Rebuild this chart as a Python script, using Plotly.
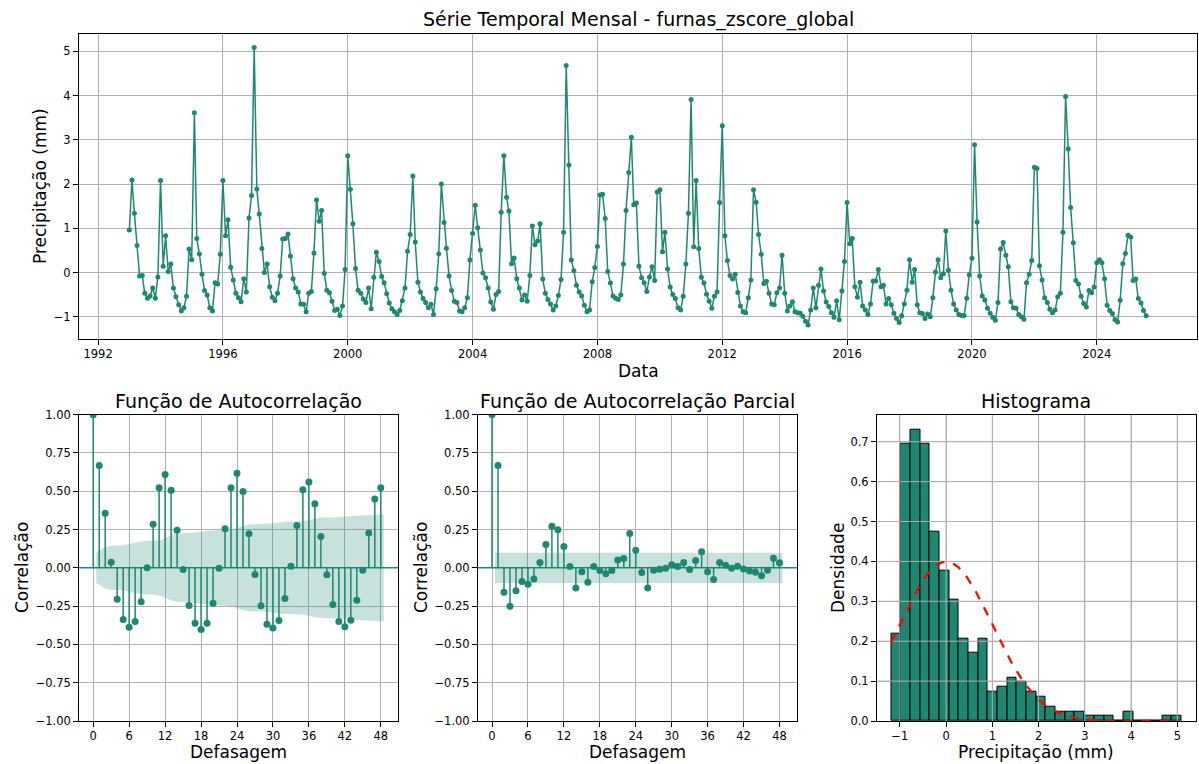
import numpy as np
import pandas as pd
import plotly.graph_objects as go

# ---------------- data ----------------
series_start = "1993-01-01"
monthly_values = [
    # 1993
    0.96, 2.09, 1.34, 0.61, -0.08, -0.07, -0.47, -0.58, -0.53, -0.35, -0.58, -0.10,
    # 1994
    2.08, 0.14, 0.83, 0.02, 0.19, -0.35, -0.55, -0.73, -0.87, -0.80, -0.54, 0.53,
    # 1995
    0.29, 3.61, 0.77, 0.42, -0.04, -0.41, -0.51, -0.80, -0.87, -0.23, -0.26, 0.41,
    # 1996
    2.08, 0.83, 1.19, 0.12, -0.17, -0.47, -0.57, -0.66, -0.14, -0.44, 1.23, 1.74,
    # 1997
    5.09, 1.89, 1.32, 0.54, 0.00, 0.19, -0.32, -0.56, -0.64, -0.47, -0.08, 0.76,
    # 1998
    0.77, 0.87, 0.37, -0.14, -0.35, -0.44, -0.71, -0.72, -0.89, -0.47, -0.43, 0.44,
    # 1999
    1.64, 1.16, 1.40, -0.02, -0.40, -0.46, -0.65, -0.86, -0.83, -0.97, -0.76, 0.07,
    # 2000
    2.64, 1.88, 1.10, 0.09, -0.40, -0.47, -0.60, -0.68, -0.35, -0.82, -0.11, 0.46,
    # 2001
    0.25, -0.09, -0.23, -0.48, -0.69, -0.82, -0.89, -0.95, -0.86, -0.64, -0.35, 0.48,
    # 2002
    0.86, 2.18, 0.69, -0.22, -0.44, -0.59, -0.68, -0.80, -0.72, -0.95, -0.37, 0.42,
    # 2003
    2.00, 1.13, 0.55, -0.08, -0.41, -0.65, -0.68, -0.87, -0.89, -0.80, -0.57, 0.28,
    # 2004
    0.88, 1.52, 1.01, 0.51, -0.01, -0.12, -0.35, -0.67, -0.83, -0.50, -0.43, 1.36,
    # 2005
    2.64, 1.70, 1.39, 0.20, 0.33, -0.14, -0.35, -0.62, -0.51, -0.65, -0.07, 1.05,
    # 2006
    0.63, 0.71, 1.10, -0.15, -0.47, -0.61, -0.71, -0.85, -0.76, -0.52, -0.16, 0.91,
    # 2007
    4.68, 2.43, 0.28, 0.04, -0.29, -0.44, -0.53, -0.74, -0.89, -0.85, -0.21, 0.11,
    # 2008
    0.59, 1.75, 1.77, 1.22, 0.02, -0.24, -0.53, -0.58, -0.61, -0.51, 0.19, 1.40,
    # 2009
    2.26, 3.06, 1.53, 1.57, 0.14, -0.12, -0.23, -0.43, -0.10, 0.13, -0.18, 1.82,
    # 2010
    1.87, 0.47, 0.91, 0.08, -0.33, -0.50, -0.59, -0.80, -0.85, -0.54, 0.19, 1.34,
    # 2011
    3.91, 0.58, 2.08, 0.54, -0.11, -0.24, -0.49, -0.65, -0.81, -0.54, -0.44, 1.58,
    # 2012
    3.32, 0.83, 0.27, -0.07, -0.15, -0.04, -0.45, -0.76, -0.89, -0.91, -0.57, -0.17,
    # 2013
    1.87, 1.59, 0.86, 0.41, -0.25, -0.20, -0.47, -0.71, -0.73, -0.46, -0.35, 0.39,
    # 2014
    -0.47, -0.87, -0.76, -0.66, -0.89, -0.91, -0.92, -0.99, -1.10, -1.19, -0.85, -0.35,
    # 2015
    -0.80, -0.29, 0.08, -0.42, -0.67, -0.77, -0.91, -1.01, -0.64, -1.07, -0.42, 0.25,
    # 2016
    1.58, 0.65, 0.77, -0.32, -0.56, -0.22, -0.76, -0.85, -0.95, -0.71, -0.19, -0.19,
    # 2017
    0.07, -0.32, -0.29, -0.71, -0.59, -0.73, -0.92, -1.04, -1.13, -0.98, -0.71, -0.40,
    # 2018
    0.29, -0.22, 0.07, -0.73, -0.91, -0.93, -1.04, -0.94, -1.00, -0.57, 0.01, 0.29,
    # 2019
    -0.12, -0.03, 0.94, 0.05, -0.40, -0.71, -0.85, -0.95, -0.97, -0.97, -0.58, -0.05,
    # 2020
    0.32, 2.89, 1.14, -0.08, -0.53, -0.62, -0.81, -0.92, -1.01, -1.08, -0.68, 0.53,
    # 2021
    0.68, 0.39, 0.13, -0.66, -0.80, -0.81, -0.95, -1.00, -1.06, -0.23, -0.04, 0.27,
    # 2022
    2.38, 2.35, 0.15, -0.17, -0.57, -0.68, -0.83, -0.91, -0.85, -0.55, -0.47, 0.91,
    # 2023
    3.98, 2.80, 1.47, 0.67, -0.18, -0.26, -0.54, -0.70, -0.78, -0.41, -0.46, -0.33,
    # 2024
    0.22, 0.29, 0.22, -0.14, -0.74, -0.86, -0.93, -1.07, -1.12, -0.63, 0.20, 0.43,
    # 2025
    0.84, 0.80, -0.18, -0.15, -0.59, -0.69, -0.86, -0.98,
]

acf_values = [
    1.000, 0.668, 0.357, 0.036, -0.205, -0.338, -0.388, -0.351, -0.222, 0.000,
    0.285, 0.523, 0.609, 0.506, 0.246, -0.010, -0.246, -0.362, -0.403, -0.362,
    -0.231, -0.003, 0.255, 0.523, 0.617, 0.499, 0.222, -0.043, -0.248, -0.368,
    -0.392, -0.344, -0.200, 0.010, 0.276, 0.510, 0.561, 0.418, 0.204, -0.045,
    -0.239, -0.351, -0.384, -0.342, -0.211, -0.016, 0.228, 0.449, 0.523,
]

pacf_values = [
    1.000, 0.669, -0.159, -0.251, -0.150, -0.089, -0.107, -0.072, 0.035, 0.153,
    0.272, 0.248, 0.139, 0.009, -0.131, -0.026, -0.094, 0.009, -0.017, -0.039,
    -0.017, 0.052, 0.061, 0.224, 0.115, -0.031, -0.131, -0.015, -0.009, -0.002,
    0.020, 0.009, 0.035, -0.011, 0.048, 0.105, -0.026, -0.076, 0.035, 0.017,
    -0.002, 0.011, -0.007, -0.020, -0.028, -0.052, -0.015, 0.063, 0.033,
]

hist_counts = [18, 57, 60, 57, 39, 31, 25, 17, 14, 17, 6, 7, 9, 8, 6,
               5, 3, 2, 2, 2, 1, 1, 1, 0, 2, 0, 0, 0, 1, 1]
normal_mean = 0.0
normal_std = 1.0

year_ticks = [1992, 1996, 2000, 2004, 2008, 2012, 2016, 2020, 2024]
lag_ticks = [0, 6, 12, 18, 24, 30, 36, 42, 48]

# ---------------- styling ----------------
TEAL = "#1e8772"
BAND = "rgba(30,135,114,0.25)"
GRID = "#b0b0b0"
FONT = "DejaVu Sans"
W, H = 1199, 764
TICK_SIZE = 11.5
LABEL_SIZE = 17
TITLE_SIZE = 19

def px_x(p):
    return p / W

def px_y(p):
    return 1 - p / H

vals = np.array(monthly_values)
n = len(vals)
dates = pd.date_range(series_start, periods=n, freq="MS")

fig = go.Figure()

# ---- top: time series ----
fig.add_trace(go.Scatter(
    x=dates, y=vals, mode="lines+markers",
    line=dict(color=TEAL, width=1.5),
    marker=dict(color=TEAL, size=5),
    xaxis="x", yaxis="y", showlegend=False,
))

# ---- ACF ----
lags = np.arange(len(acf_values))
z = 1.959963985
r = np.array(acf_values)
var_acf = np.ones(len(r)) / n
var_acf[0] = 0
var_acf[2:] *= 1 + 2 * np.cumsum(r[1:-1] ** 2)
acf_w = z * np.sqrt(var_acf)
band_x = lags[1:].astype(float)
band_x[0] -= 0.5
band_x[-1] += 0.5
fig.add_trace(go.Scatter(
    x=np.concatenate([band_x, band_x[::-1]]),
    y=np.concatenate([acf_w[1:], -acf_w[1:][::-1]]),
    fill="toself", fillcolor=BAND, line=dict(width=0), mode="lines",
    xaxis="x2", yaxis="y2", showlegend=False, hoverinfo="skip",
))

def stems(lg, v, xa, ya):
    sx, sy = [], []
    for a, b in zip(lg, v):
        sx += [a, a, None]
        sy += [0, b, None]
    fig.add_trace(go.Scatter(x=sx, y=sy, mode="lines",
                             line=dict(color=TEAL, width=1.5),
                             xaxis=xa, yaxis=ya, showlegend=False))
    fig.add_trace(go.Scatter(x=lg, y=v, mode="markers",
                             marker=dict(color=TEAL, size=7),
                             xaxis=xa, yaxis=ya, showlegend=False))

# ---- PACF band ----
pacf_w = z / np.sqrt(n)
fig.add_trace(go.Scatter(
    x=[band_x[0], band_x[-1], band_x[-1], band_x[0]],
    y=[pacf_w, pacf_w, -pacf_w, -pacf_w],
    fill="toself", fillcolor=BAND, line=dict(width=0), mode="lines",
    xaxis="x3", yaxis="y3", showlegend=False, hoverinfo="skip",
))

stems(lags, acf_values, "x2", "y2")
stems(lags, pacf_values, "x3", "y3")

# ---- histogram ----
edges = np.linspace(vals.min(), vals.max(), len(hist_counts) + 1)
bw = edges[1] - edges[0]
centers = (edges[:-1] + edges[1:]) / 2
density = np.array(hist_counts) / (n * bw)
fig.add_trace(go.Bar(
    x=centers, y=density, width=bw,
    marker=dict(color=TEAL, line=dict(color="black", width=1)),
    xaxis="x4", yaxis="y4", showlegend=False,
))
# grid drawn above bars (as matplotlib does)
hx_range = [vals.min() - 0.05 * (vals.max() - vals.min()),
            vals.max() + 0.05 * (vals.max() - vals.min())]
hy_top = density.max() * 1.05
gx, gy = [], []
for t in range(-1, 6):
    gx += [t, t, None]
    gy += [0, hy_top, None]
for t in np.arange(0.1, 0.75, 0.1):
    gx += [hx_range[0], hx_range[1], None]
    gy += [t, t, None]
fig.add_trace(go.Scatter(x=gx, y=gy, mode="lines",
                         line=dict(color=GRID, width=1),
                         xaxis="x4", yaxis="y4", showlegend=False,
                         hoverinfo="skip"))
xn = np.linspace(vals.min(), vals.max(), 200)
pdf = np.exp(-0.5 * ((xn - normal_mean) / normal_std) ** 2) / (normal_std * np.sqrt(2 * np.pi))
fig.add_trace(go.Scatter(x=xn, y=pdf, mode="lines",
                         line=dict(color="red", width=2.2, dash="dash"),
                         xaxis="x4", yaxis="y4", showlegend=False))

# ---------------- axes ----------------
axis_common = dict(
    showline=True, linecolor="black", linewidth=1, mirror=True,
    showgrid=True, gridcolor=GRID, gridwidth=1,
    ticks="outside", ticklen=4.5, tickwidth=1, tickcolor="black",
    tickfont=dict(family=FONT, size=TICK_SIZE, color="black"),
    zeroline=False, automargin=False,
)

d0, d1 = dates.min(), dates.max()
span = d1 - d0
xr = [d0 - 0.05 * span, d1 + 0.05 * span]
yr = [vals.min() - 0.05 * (vals.max() - vals.min()),
      vals.max() + 0.05 * (vals.max() - vals.min())]

top_y = [px_y(339), px_y(33.5)]
bot_y = [px_y(721), px_y(414.7)]

lag_range = [-2.425, 50.925]

fig.update_layout(
    width=W, height=H, autosize=False,
    margin=dict(l=0, r=0, t=0, b=0, autoexpand=False),
    paper_bgcolor="white", plot_bgcolor="white",
    font=dict(family=FONT, color="black"),
    xaxis=dict(axis_common, domain=[px_x(78.5), px_x(1197)], type="date",
               range=xr, tickvals=[f"{y}-01-01" for y in year_ticks],
               ticktext=[str(y) for y in year_ticks], anchor="y"),
    yaxis=dict(axis_common, domain=top_y, range=yr, dtick=1, tick0=0, anchor="x"),
    xaxis2=dict(axis_common, domain=[px_x(78.7), px_x(398.3)], range=lag_range,
                tickvals=lag_ticks, anchor="y2"),
    yaxis2=dict(axis_common, domain=bot_y, range=[-1, 1], dtick=0.25, tick0=0,
                tickformat=".2f", anchor="x2"),
    xaxis3=dict(axis_common, domain=[px_x(477.5), px_x(797)], range=lag_range,
                tickvals=lag_ticks, anchor="y3"),
    yaxis3=dict(axis_common, domain=bot_y, range=[-1, 1], dtick=0.25, tick0=0,
                tickformat=".2f", anchor="x3"),
    xaxis4=dict(axis_common, domain=[px_x(876.5), px_x(1196)], range=hx_range,
                dtick=1, tick0=0, anchor="y4"),
    yaxis4=dict(axis_common, domain=bot_y, range=[0, hy_top], dtick=0.1, tick0=0,
                tickformat=".1f", anchor="x4"),
    bargap=0,
)

# zero lines for ACF / PACF (axhline)
for xa, ya in [("x2", "y2"), ("x3", "y3")]:
    fig.add_shape(type="line", xref=f"{xa} domain", yref=ya,
                  x0=0, x1=1, y0=0, y1=0,
                  line=dict(color=TEAL, width=1.5), layer="above")

# ---------------- text ----------------
def ann(text, x, y, size, angle=0):
    fig.add_annotation(text=text, x=px_x(x), y=px_y(y), xref="paper", yref="paper",
                       showarrow=False, textangle=angle,
                       xanchor="center", yanchor="middle",
                       font=dict(family=FONT, size=size, color="black"))

ann("Série Temporal Mensal - furnas_zscore_global", 638, 19, TITLE_SIZE)
ann("Data", 638, 371, LABEL_SIZE)
ann("Precipitação (mm)", 40, 186, LABEL_SIZE, -90)

ann("Função de Autocorrelação", 238.5, 401, TITLE_SIZE)
ann("Função de Autocorrelação Parcial", 637, 401, TITLE_SIZE)
ann("Histograma", 1036, 401, TITLE_SIZE)

ann("Defasagem", 238.5, 752, LABEL_SIZE)
ann("Defasagem", 637, 752, LABEL_SIZE)
ann("Precipitação (mm)", 1036, 752, LABEL_SIZE)

ann("Correlação", 22, 568, LABEL_SIZE, -90)
ann("Correlação", 421, 568, LABEL_SIZE, -90)
ann("Densidade", 838, 568, LABEL_SIZE, -90)

post_js = (
    "document.documentElement.style.margin='0';"
    "document.documentElement.style.overflow='hidden';"
    "document.body.style.margin='0';"
    "document.body.style.padding='0';"
    "document.body.style.overflow='hidden';"
    "var gd=document.getElementById('{plot_id}');"
    "Plotly.relayout(gd,{width:%d,height:%d});" % (W, H)
)

fig.write_html("out.html",
               config={"responsive": False, "displayModeBar": False},
               post_script=post_js)
